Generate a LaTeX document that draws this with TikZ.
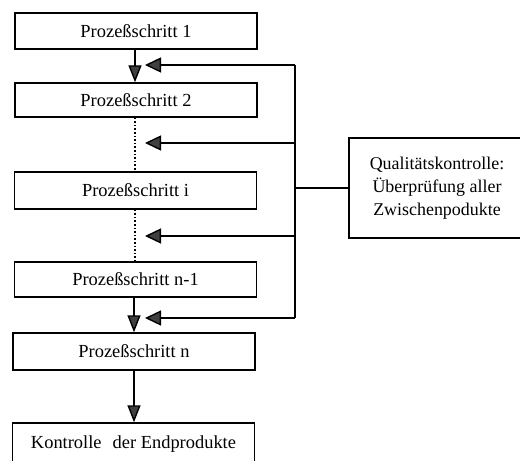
\documentclass[tikz,border=0pt]{standalone}
\usepackage{fontspec}
\setmainfont{Liberation Serif}
\usetikzlibrary{arrows.meta}
\begin{document}
\begin{tikzpicture}[x=1bp,y=-1bp,
  stepbox/.style={draw,line width=1.4bp,minimum width=242bp,minimum height=36bp,
    inner sep=0pt,font=\fontsize{18.5}{21}\selectfont},
  qbox/.style={draw,line width=1.4bp,minimum width=176bp,minimum height=100bp,
    inner sep=0pt,align=center,font=\fontsize{18}{23}\selectfont},
  flow/.style={line width=1.4bp,-{Triangle[length=17bp,width=13bp,fill=black!75]}},
  back/.style={line width=1.4bp,-{Triangle[length=16bp,width=15bp,fill=black!75]}},
  link/.style={line width=1.4bp},
  gap/.style={line width=1.6bp,dotted}]
\useasboundingbox (0,0) rectangle (520,461);
\clip (0,0) rectangle (520,461);
% process chain
\node[stepbox] (s1) at (136,31) {Prozeßschritt 1};
\node[stepbox,minimum height=34bp] (s2) at (136,100) {Prozeßschritt 2};
\node[stepbox,minimum height=37bp] (si) at (135.5,190.5) {Prozeßschritt i};
\node[stepbox,minimum height=35bp] (sn1) at (135.5,279.5) {Prozeßschritt n-1};
\node[stepbox,minimum height=37bp] (sn) at (134,351.5) {Prozeßschritt n};
\node[stepbox,minimum height=42bp] (end) at (133.5,444) {Kontrolle\hspace{0.35em} der Endprodukte};
% quality control box
\node[qbox] (q) at (437,188) {Qualitätskontrolle:\\Überprüfung aller\\Zwischenpodukte};
% flow between steps
\draw[flow] (s1.south -| 135,0) -- (s2.north -| 135,0);
\draw[gap] (s2.south -| 135,0) -- (si.north -| 135,0);
\draw[gap] (si.south -| 135,0) -- (sn1.north -| 135,0);
\draw[flow] (sn1.south -| 134,0) -- (sn.north -| 134,0);
\draw[flow] (sn.south -| 134,0) -- (end.north -| 134,0);
% feedback from quality control
\coordinate (b1) at (295,65);
\coordinate (b2) at (295,143);
\coordinate (b3) at (295,236);
\coordinate (b4) at (295,318);
\coordinate (t1) at (145,65);
\coordinate (t2) at (145,143);
\coordinate (t3) at (145,236);
\coordinate (t4) at (145,318);
\draw[link] (b1) -- (b4);
\draw[link] (q.west) -- (q.west -| b1);
\draw[back] (b1) -- (t1);
\draw[back] (b2) -- (t2);
\draw[back] (b3) -- (t3);
\draw[back] (b4) -- (t4);
\end{tikzpicture}
\end{document}
